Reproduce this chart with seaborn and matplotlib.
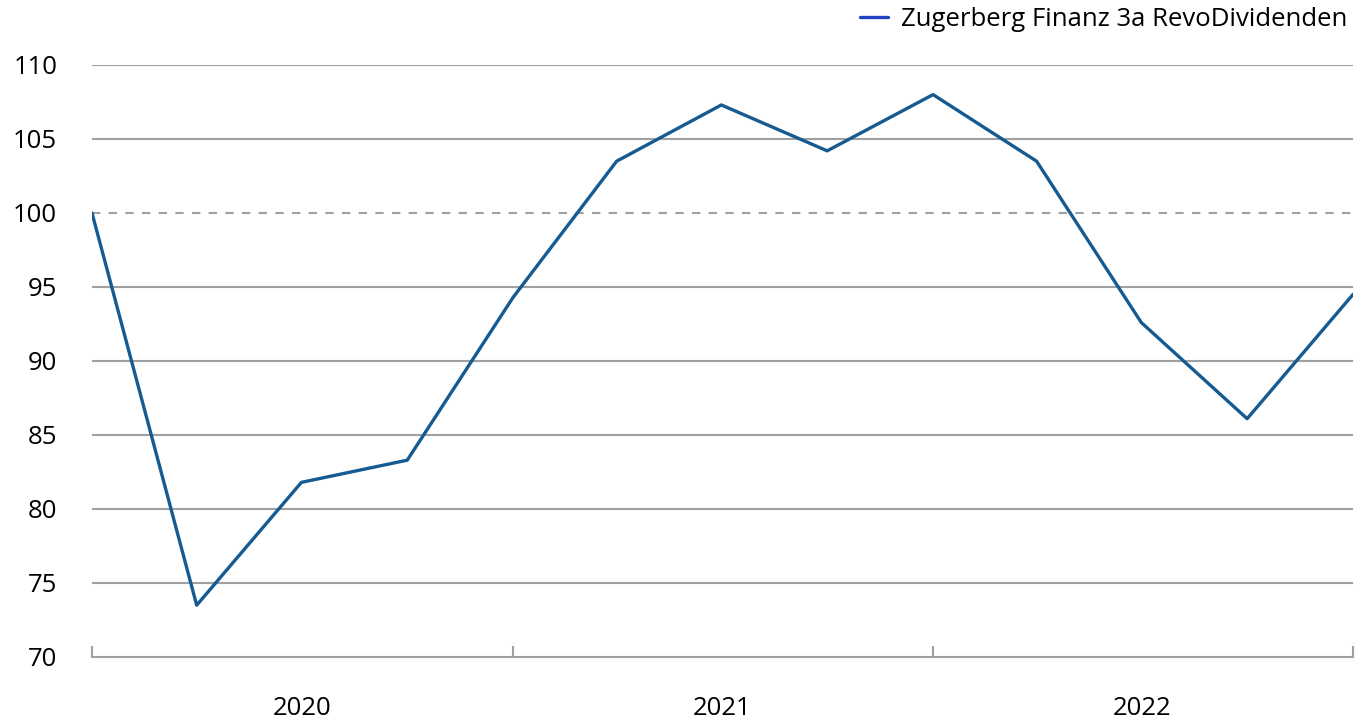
import pandas as pd
import matplotlib.pyplot as plt
from matplotlib.lines import Line2D
import seaborn as sns

# Quarterly index values (start = 100)
dates = pd.date_range("2020-01-01", periods=13, freq="QS")
values = [100.0, 73.5, 81.8, 83.3, 94.3, 103.5, 107.3, 104.2, 108.0, 103.5, 92.6, 86.1, 94.5]
series_name = "Zugerberg Finanz 3a RevoDividenden"
y_ticks = [70, 75, 80, 85, 90, 95, 100, 105, 110]
years = [2020, 2021, 2022]

sns.set_style("white")
plt.rcParams["font.family"] = ["Open Sans", "DejaVu Sans"]
plt.rcParams["text.color"] = "black"

df = pd.DataFrame({"date": dates, "value": values})

fig = plt.figure(figsize=(13.65, 7.21), dpi=100)
ax = fig.add_axes([92 / 1365, 1 - 657 / 721, (1353 - 92) / 1365, (657 - 65) / 721])

grid_col = "#a0a0a0"
for y in y_ticks[1:]:
    if y == 100:
        ax.axhline(y, color=grid_col, lw=1.5, ls=(0, (4, 4)), zorder=1)
    else:
        ax.axhline(y, color=grid_col, lw=1.5, zorder=1)

sns.lineplot(data=df, x="date", y="value", ax=ax, color="#155b92", lw=2.4, zorder=3, legend=False)

ax.set_ylim(70, 110)
ax.set_xlim(pd.Timestamp("2020-01-01"), pd.Timestamp("2023-01-01"))
ax.set_yticks(y_ticks)
ax.set_yticklabels([str(v) for v in y_ticks])

major = [pd.Timestamp(f"{y}-01-01") for y in years + [2023]]
minor = [pd.Timestamp(f"{y}-07-02") for y in years]
ax.set_xticks(major)
ax.set_xticklabels([])
ax.set_xticks(minor, minor=True)
ax.set_xticklabels([str(y) for y in years], minor=True)

ax.tick_params(axis="x", which="major", bottom=True, direction="in", length=8, width=1.5, color=grid_col)
ax.tick_params(axis="x", which="minor", bottom=True, length=0, pad=28, labelsize=18.5, labelcolor="black")
ax.tick_params(axis="y", length=0, pad=25, labelsize=18.5, labelcolor="black")

for s in ["top", "right", "left"]:
    ax.spines[s].set_visible(False)
ax.spines["bottom"].set_color(grid_col)
ax.spines["bottom"].set_linewidth(1.5)

ax.set_xlabel("")
ax.set_ylabel("")

handle = Line2D([0], [0], color="#2042c0", lw=2.4)
fig.legend([handle], [series_name], loc="upper right", bbox_to_anchor=(1.0, 1.015),
           frameon=False, fontsize=18.5, handlelength=1.1, handletextpad=0.5, borderaxespad=0.3)

fig.savefig("out.png", dpi=100)
